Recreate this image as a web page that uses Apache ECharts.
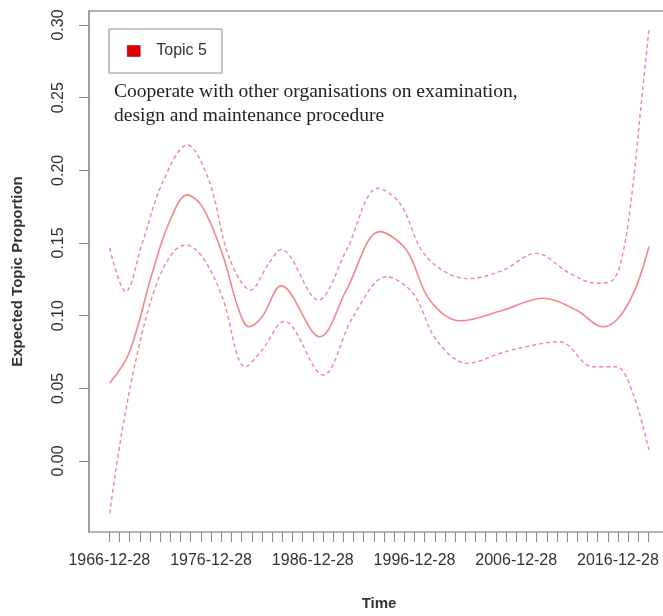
<!DOCTYPE html>
<html>
<head>
<meta charset="utf-8">
<script src="https://cdn.jsdelivr.net/npm/echarts@6/dist/echarts.min.js"></script>
<style>
	html,body{margin:0;padding:0;background:#fff;}
	#main{width:663px;height:616px;}
</style>
</head>
<body>
<div id="main"></div>
<script type="text/javascript">
	// x = years since 1966-12-28
	var tickLabels = ["1966-12-28","1976-12-28","1986-12-28","1996-12-28","2006-12-28","2016-12-28"];
	var labelYears = [0,10,20,30,40,50];
	var yTicks = [0,0.05,0.10,0.15,0.20,0.25,0.30];

	var meanLine = [
		[0.03,0.0535],[1.93,0.0741],[4.21,0.1292],[5.85,0.1636],[7.65,0.1831],[9.13,0.1750],
		[11.09,0.1429],[12.73,0.1039],[13.71,0.0924],[15.02,0.0993],[16.9,0.1205],
		[20.69,0.0855],[23.31,0.1177],[26.58,0.1578],[29.2,0.1452],[31.49,0.1108],[34.5,0.0965],
		[38.6,0.1035],[42.62,0.1120],[45.9,0.1039],[48.52,0.0924],[50.16,0.0993],
		[51.8,0.1200],[53.04,0.1475]
	];
	var upperLine = [
		[0.03,0.1464],[1.6,0.1165],[3.23,0.1498],[5.2,0.1911],[7.65,0.2175],[9.78,0.1934],
		[11.75,0.1406],[13.88,0.1177],[15.68,0.1361],[16.9,0.1455],[20.52,0.1108],
		[23.31,0.1452],[26.41,0.1877],[28.55,0.1774],[31.17,0.1406],[35.2,0.1255],
		[38.6,0.1310],[41.97,0.1429],[45.24,0.1292],[47.87,0.1223],[49.5,0.1246],[50.48,0.1429],
		[51.46,0.1888],[52.29,0.2462],[53.04,0.2966]
	];
	var lowerLine = [
		[0.03,-0.0360],[1.27,0.0213],[2.91,0.0787],[4.55,0.1200],[6.18,0.1429],[7.5,0.1487],
		[9.13,0.1406],[11.09,0.1131],[13.39,0.0649],[15.02,0.0764],[17.2,0.0962],
		[21.01,0.0592],[23.96,0.0993],[27.24,0.1268],[29.85,0.1154],[32.15,0.0833],[35.2,0.0672],
		[38.6,0.0745],[40.99,0.0787],[44.26,0.0821],[47.53,0.0649],[49.83,0.0649],
		[51.46,0.0466],[53.04,0.0076]
	];

	var lineColor = "#f4868a";
	var minorTicks = [];
	for(var i=0;i<=53;i++){ minorTicks.push(i); }

	var myChart = echarts.init(document.getElementById("main"));
	var option = {
		animation:false,
		title:{
			text:"Cooperate with other organisations on examination,\ndesign and maintenance procedure",
			left:109,
			top:75,
			textStyle:{
				fontFamily:"Liberation Serif",
				fontSize:19.5,
				fontWeight:"normal",
				lineHeight:24,
				color:"#222"
			}
		},
		legend:{
			left:109,
			top:29,
			orient:"vertical",
			borderColor:"#8c8c8c",
			borderWidth:1,
			borderRadius:0,
			padding:[14,15,14,18],
			itemWidth:13,
			itemHeight:11,
			data:[{name:"Topic 5",icon:"rect",itemStyle:{color:"#e00000",borderColor:"#700",borderWidth:0.5}}],
			textStyle:{fontFamily:"Liberation Sans",fontSize:16,color:"#333",padding:[0,0,0,11]}
		},
		grid:{
			left:89,
			top:11,
			width:590,
			height:521,
			outerBoundsMode:"none",
			show:true,
			borderColor:"#9a9a9a",
			borderWidth:1.5
		},
		xAxis:{
			type:"value",
			min:-2,
			max:56,
			name:"Time",
			nameLocation:"middle",
			nameGap:64,
			nameTextStyle:{fontFamily:"Liberation Sans",fontSize:15,fontWeight:"bold",color:"#333",padding:[0,10,0,0]},
			axisLine:{show:false,onZero:false},
			splitLine:{show:false},
			axisTick:{show:true,length:10,customValues:minorTicks,lineStyle:{color:"#8a8a8a",width:1}},
			axisLabel:{
				customValues:labelYears,
				margin:21,
				fontFamily:"Liberation Sans",
				fontSize:16,
				color:"#333",
				formatter:function(v){
					var k = labelYears.indexOf(Math.round(v));
					return k >= 0 ? tickLabels[k] : "";
				}
			}
		},
		yAxis:{
			type:"value",
			min:-0.04885,
			max:0.30964,
			name:"Expected Topic Proportion",
			nameLocation:"middle",
			nameGap:64,
			nameTextStyle:{fontFamily:"Liberation Sans",fontSize:15,fontWeight:"bold",color:"#333"},
			axisLine:{show:true,onZero:false,lineStyle:{color:"#9a9a9a",width:1.5}},
			splitLine:{show:false},
			axisTick:{show:true,length:10,customValues:yTicks,lineStyle:{color:"#8a8a8a",width:1}},
			axisLabel:{
				customValues:yTicks,
				rotate:90,
				margin:22,
				fontFamily:"Liberation Sans",
				fontSize:16,
				color:"#333",
				formatter:function(v){ return v.toFixed(2); }
			}
		},
		series:[
			{
				name:"Topic 5",
				type:"line",
				data:meanLine,
				smooth:0.35,
				showSymbol:false,
				symbol:"none",
				lineStyle:{color:lineColor,width:1.6,type:"solid"},
				itemStyle:{color:lineColor},
				z:3
			},
			{
				name:"upper",
				type:"line",
				data:upperLine,
				smooth:0.35,
				symbol:"none",
				lineStyle:{color:lineColor,width:1.4,type:[4,3]},
				z:2
			},
			{
				name:"lower",
				type:"line",
				data:lowerLine,
				smooth:0.35,
				symbol:"none",
				lineStyle:{color:lineColor,width:1.4,type:[4,3]},
				z:2
			}
		]
	};
	myChart.setOption(option);
</script>
</body>
</html>
